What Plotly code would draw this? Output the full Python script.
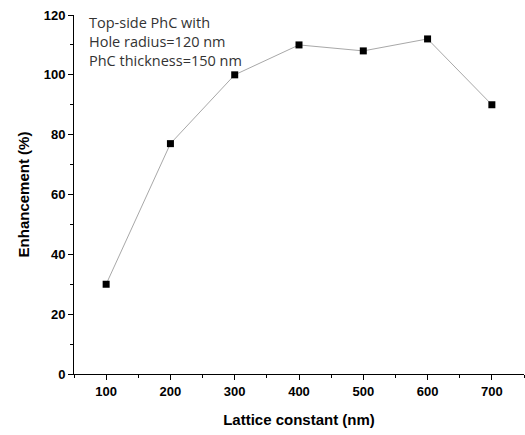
import plotly.graph_objects as go

lattice = [100, 200, 300, 400, 500, 600, 700]
enhancement = [30, 77, 100, 110, 108, 112, 90]
x_ticks = [100, 200, 300, 400, 500, 600, 700]
y_ticks = [0, 20, 40, 60, 80, 100, 120]

fig = go.Figure()
fig.add_trace(go.Scatter(
    x=lattice, y=enhancement, mode="lines+markers",
    line=dict(color="#a8a8a8", width=1),
    marker=dict(symbol="square", size=7, color="black"),
    showlegend=False, cliponaxis=False,
))

tickfont = dict(family="Liberation Sans, Arial", size=13, color="black", weight="bold")
titlefont = dict(family="Liberation Sans, Arial", size=15, color="black", weight="bold")

fig.update_layout(
    width=525, height=435,
    margin=dict(l=74, r=1, t=15, b=61),
    plot_bgcolor="white", paper_bgcolor="white",
    xaxis=dict(
        range=[50, 750], tickvals=x_ticks, ticks="outside", ticklen=5, tickwidth=1,
        tickcolor="black", showline=True, linecolor="black", linewidth=1,
        showgrid=False, zeroline=False, tickfont=tickfont,
        minor=dict(dtick=50, tick0=0, ticks="outside", ticklen=3, tickcolor="black", showgrid=False),
        title=dict(text="Lattice constant (nm)", font=titlefont, standoff=16),
    ),
    yaxis=dict(
        range=[0, 120], tickvals=y_ticks, ticks="outside", ticklen=5, tickwidth=1,
        tickcolor="black", showline=True, linecolor="black", linewidth=1,
        showgrid=False, zeroline=False, tickfont=tickfont,
        minor=dict(dtick=10, tick0=0, ticks="outside", ticklen=3, tickcolor="black", showgrid=False),
        title=dict(text="Enhancement (%)", font=titlefont, standoff=10),
    ),
    annotations=[dict(
        x=0.028, y=1.01, xref="paper", yref="paper", xanchor="left", yanchor="top",
        text="Top-side PhC with<br>Hole radius=120 nm<br>PhC thickness=150 nm",
        showarrow=False, align="left",
        font=dict(family="Open Sans, Noto Sans", size=14.5, color="#333333"),
    )],
)

fig.write_html("out.html")
